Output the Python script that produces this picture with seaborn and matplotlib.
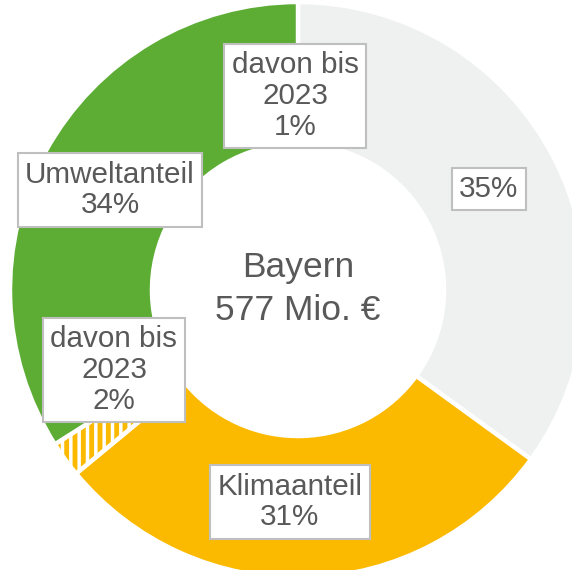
import matplotlib
matplotlib.use("Agg")
import matplotlib.pyplot as plt
import seaborn as sns

# Anteile am Gesamtbetrag (Prozent), im Uhrzeigersinn ab 12 Uhr
segments = ["Rest", "Klimaanteil", "davon bis 2023 (Klima)", "Umweltanteil"]
shares = [35, 29, 2, 34]
hatched = [False, False, True, False]

# Beschriftungen
label_texts = ["35%", "Klimaanteil\n31%", "davon bis\n2023\n2%", "Umweltanteil\n34%", "davon bis\n2023\n1%"]
center_text = "Bayern\n577 Mio. €"

colors = ["#EFF0F0", "#FBBA00", "#FBBA00", "#5DAD35"]
text_color = "#595959"

sns.set_theme(style="white")
plt.rcParams["font.family"] = ["Liberation Sans", "DejaVu Sans"]
plt.rcParams["hatch.linewidth"] = 2.5

fig = plt.figure(figsize=(5.72, 5.70), dpi=100)
ax = fig.add_axes([0, 0, 1, 1])

wedges, _ = ax.pie(shares, colors=colors, startangle=90, counterclock=False,
                   radius=1.0, wedgeprops=dict(width=0.493, edgecolor="white", linewidth=3.2))
for w, h in zip(wedges, hatched):
    if h:
        w.set_hatch("||")

# Label positions (data coords, ring radius = 1)
label_pos = [(0.663, 0.351), (-0.028, -0.736), (-0.639, -0.278), (-0.653, 0.347), (-0.010, 0.674)]
box = dict(boxstyle="square,pad=0.25", facecolor="white", edgecolor="#BFBFBF", linewidth=1.5)
for txt, (x, y) in zip(label_texts, label_pos):
    ax.text(x, y, txt, ha="center", va="center", fontsize=21.3, color=text_color,
            linespacing=1.12, bbox=box)

ax.text(0.0, 0.005, center_text, ha="center", va="center", fontsize=25.5,
        color=text_color, linespacing=1.38)

ax.set_xlim(-298 / 288, 274 / 288)
ax.set_ylim(-280 / 288, 290 / 288)
ax.set_aspect("equal")
ax.axis("off")

fig.savefig("out.png", dpi=100, facecolor="white")
